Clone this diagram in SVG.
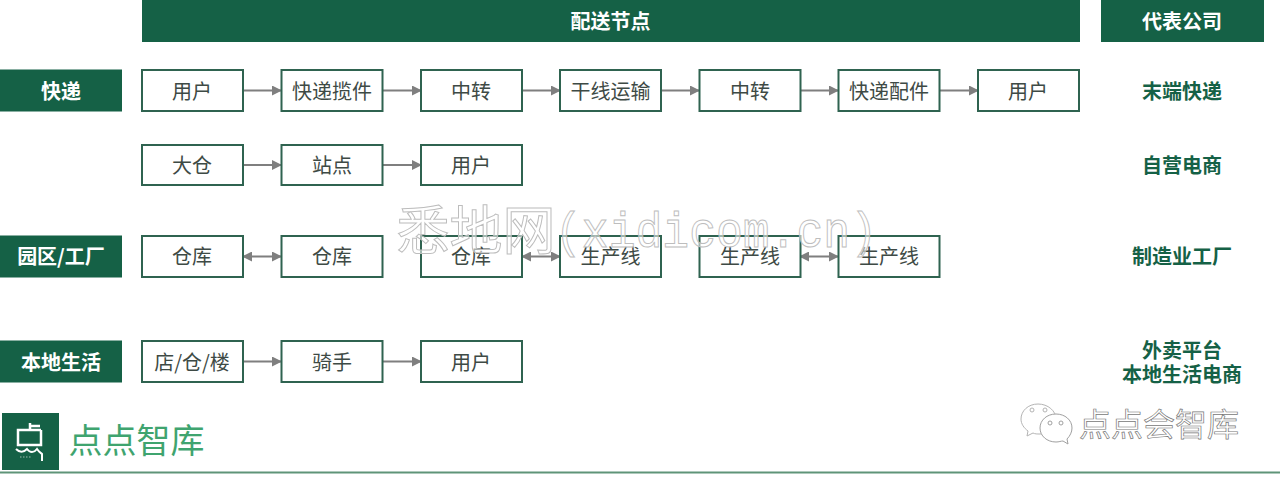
<svg xmlns="http://www.w3.org/2000/svg" width="1280" height="481" viewBox="0 0 1280 481">
<style>
text{font-family:"Noto Sans CJK SC","Liberation Sans",sans-serif;text-anchor:middle}
.box{fill:#fff;stroke:#2f6350;stroke-width:2}
.band{fill:#156146}
.t{font-size:20px;fill:#3e4a45}
.h{font-size:20px;font-weight:700;fill:#fff}
.c{font-size:20px;font-weight:700;fill:#156146}
.line{stroke:#7f7f7f;stroke-width:2;fill:none}
.wm{font-size:53px;fill:#fff;fill-opacity:.55;stroke:#bdbdbd;stroke-width:1}
.wml{font-family:"Liberation Mono",monospace;font-size:50px;fill:#fff;fill-opacity:.55;stroke:#bdbdbd;stroke-width:1}
.wm2{font-size:32px;fill:#fff;stroke:#777;stroke-width:.7}
</style>
<defs>
<marker id="a" viewBox="0 0 10 10" refX="9" refY="5" markerWidth="5" markerHeight="5" orient="auto-start-reverse"><path d="M0 0L10 5L0 10z" fill="#7f7f7f"/></marker>
</defs>
<rect width="1280" height="481" fill="#fff"/>
<g id="header-nodes">
<rect class="band" x="142" y="0" width="938" height="42"/><text class="h" x="610.500" y="29">配送节点</text>
<rect class="band" x="1101" y="0" width="163" height="42"/><text class="h" x="1182" y="29">代表公司</text>
</g>
<g id="connectors">
<path class="line" marker-end="url(#a)" d="M243 90.500H281"/>
<path class="line" marker-end="url(#a)" d="M382 90.500H421"/>
<path class="line" marker-end="url(#a)" d="M522 90.500H560"/>
<path class="line" marker-end="url(#a)" d="M661 90.500H699"/>
<path class="line" marker-end="url(#a)" d="M800 90.500H838"/>
<path class="line" marker-end="url(#a)" d="M939 90.500H978"/>
<path class="line" marker-end="url(#a)" d="M243 165H281"/>
<path class="line" marker-end="url(#a)" d="M382 165H421"/>
<path class="line" marker-start="url(#a)" marker-end="url(#a)" d="M243 256.500H281"/>
<path class="line" marker-start="url(#a)" marker-end="url(#a)" d="M522 256.500H560"/>
<path class="line" marker-start="url(#a)" marker-end="url(#a)" d="M800 256.500H838"/>
<path class="line" marker-end="url(#a)" d="M243 361.500H281"/>
<path class="line" marker-end="url(#a)" d="M382 361.500H421"/>
</g>
<g id="row-express">
<rect class="band" x="0" y="69.500" width="122" height="42"/><text class="h" x="61" y="98.500">快递</text>
<g id="e1"><rect class="box" x="142" y="70" width="101" height="41"/><text class="t" x="192" y="98.500">用户</text></g>
<g id="e2"><rect class="box" x="281.500" y="70" width="101" height="41"/><text class="t" x="332" y="98.500">快递揽件</text></g>
<g id="e3"><rect class="box" x="421" y="70" width="101" height="41"/><text class="t" x="471" y="98.500">中转</text></g>
<g id="e4"><rect class="box" x="560" y="70" width="101" height="41"/><text class="t" x="610.500" y="98.500">干线运输</text></g>
<g id="e5"><rect class="box" x="699.500" y="70" width="101" height="41"/><text class="t" x="750" y="98.500">中转</text></g>
<g id="e6"><rect class="box" x="838.500" y="70" width="101" height="41"/><text class="t" x="889" y="98.500">快递配件</text></g>
<g id="e7"><rect class="box" x="978" y="70" width="101" height="41"/><text class="t" x="1028" y="98.500">用户</text></g>
<text class="c" x="1182" y="98.500">末端快递</text>
</g>
<g id="row-ecommerce">
<g id="d1"><rect class="box" x="142" y="145" width="101" height="40"/><text class="t" x="192" y="172.500">大仓</text></g>
<g id="d2"><rect class="box" x="281.500" y="145" width="101" height="40"/><text class="t" x="332" y="172.500">站点</text></g>
<g id="d3"><rect class="box" x="421" y="145" width="101" height="40"/><text class="t" x="471" y="172.500">用户</text></g>
<text class="c" x="1182" y="172.500">自营电商</text>
</g>
<g id="row-factory">
<rect class="band" x="0" y="235.500" width="122" height="42"/><text class="h" x="61" y="263.500">园区/工厂</text>
<g id="f1"><rect class="box" x="142" y="236" width="101" height="41"/><text class="t" x="192" y="263.500">仓库</text></g>
<g id="f2"><rect class="box" x="281.500" y="236" width="101" height="41"/><text class="t" x="332" y="263.500">仓库</text></g>
<g id="f3"><rect class="box" x="421" y="236" width="101" height="41"/><text class="t" x="471" y="263.500">仓库</text></g>
<g id="f4"><rect class="box" x="560" y="236" width="101" height="41"/><text class="t" x="610.500" y="263.500">生产线</text></g>
<g id="f5"><rect class="box" x="699.500" y="236" width="101" height="41"/><text class="t" x="750" y="263.500">生产线</text></g>
<g id="f6"><rect class="box" x="838.500" y="236" width="101" height="41"/><text class="t" x="889" y="263.500">生产线</text></g>
<text class="c" x="1182" y="263.500">制造业工厂</text>
</g>
<g id="row-local">
<rect class="band" x="0" y="340.500" width="122" height="42"/><text class="h" x="61" y="369.500">本地生活</text>
<g id="l1"><rect class="box" x="142" y="341" width="101" height="41"/><text class="t" x="192" y="369.500">店/仓/楼</text></g>
<g id="l2"><rect class="box" x="281.500" y="341" width="101" height="41"/><text class="t" x="332" y="369.500">骑手</text></g>
<g id="l3"><rect class="box" x="421" y="341" width="101" height="41"/><text class="t" x="471" y="369.500">用户</text></g>
<text class="c" x="1182" y="357.500">外卖平台</text>
<text class="c" x="1182" y="381.500">本地生活电商</text>
</g>
<g id="watermark">
<text class="wm" x="476" y="250">悉地网</text>
<text class="wml" x="716" y="247" textLength="322" lengthAdjust="spacingAndGlyphs">(xidicom.cn)</text>
</g>
<g id="logo">
<rect class="band" x="2" y="413" width="57" height="57"/>
<path d="M30 423V430H41M41 430V445H18V430H30M30 426H40" fill="none" stroke="#fff" stroke-width="2.500"/>
<path d="M16 449C20 453 24 452 27 449C30 453 34 453 37 449C39 452 41 453 42 454V461" fill="none" stroke="#fff" stroke-width="2"/>
<path d="M20 457H32" stroke="#9dbdae" stroke-width="1" stroke-dasharray="1.500 1.500" fill="none"/>
<text x="136.500" y="453" font-size="34" fill="#3fa46f">点点智库</text>
</g>
<path id="rule" d="M0 472.500H1280" stroke="#5f9478" stroke-width="2" fill="none"/>
<g id="wechat">
<path d="M1038 404C1028 404 1021 411 1021 419C1021 424 1024 428 1028 431L1027 436L1033 433C1035 434 1037 434 1040 434C1049 434 1056 427 1056 419C1056 411 1048 404 1038 404z" fill="#fff" stroke="#b4b4b4"/>
<path d="M1056 414C1047 414 1040 420 1040 428C1040 436 1047 442 1056 442C1059 442 1061 441 1063 441L1068 444L1067 439C1070 436 1072 432 1072 428C1072 420 1065 414 1056 414z" fill="#fff" stroke="#a0a0a0"/>
<circle cx="1032" cy="410" r="2" fill="none" stroke="#b4b4b4"/><circle cx="1045" cy="410" r="2" fill="none" stroke="#b4b4b4"/>
<circle cx="1050" cy="423" r="2" fill="none" stroke="#a0a0a0"/><circle cx="1061" cy="423" r="2" fill="none" stroke="#a0a0a0"/>
<text class="wm2" x="1159" y="436">点点会智库</text>
</g>
</svg>
